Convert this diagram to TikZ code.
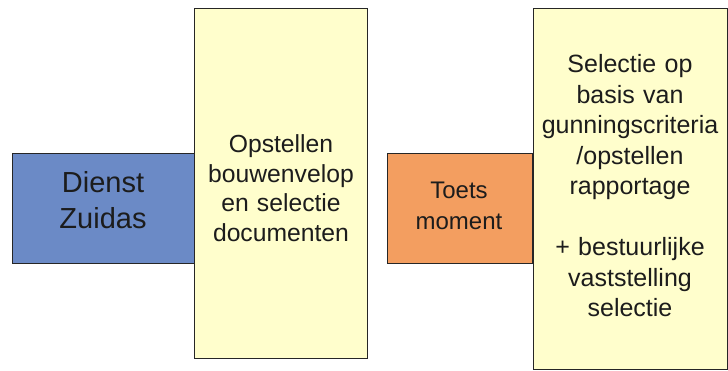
\documentclass[tikz,border=0pt]{standalone}
\usepackage{fontspec}
\setmainfont{Liberation Sans}
\definecolor{boxblue}{RGB}{107,138,198}
\definecolor{boxorange}{RGB}{243,158,96}
\definecolor{boxyellow}{RGB}{255,254,204}
\definecolor{txt}{RGB}{28,28,28}
\begin{document}
\begin{tikzpicture}[x=1pt,y=-1pt,
  box/.style={draw=black!85, line width=1.3pt, inner sep=0pt, anchor=north west},
  lbl/.style={text=txt, align=center, inner sep=0pt, anchor=base}]
\useasboundingbox (0,0) rectangle (728,371);
\fill[white] (0,0) rectangle (728,371);
% boxes
\node[box, fill=boxblue, minimum width=182pt, minimum height=110pt] (dienstbox) at (12,153) {};
\node[box, fill=boxyellow, minimum width=173pt, minimum height=350pt] (opstelbox) at (194,8) {};
\node[box, fill=boxorange, minimum width=145pt, minimum height=110pt] (toetsbox) at (387,153) {};
\node[box, fill=boxyellow, minimum width=194pt, minimum height=361pt] (selectbox) at (533,8) {};
% texts
\node[lbl, font=\fontsize{29}{36}\selectfont, text width=178pt] (dienst) at (103,193) {Dienst\\Zuidas};
\node[lbl, font=\fontsize{24.7}{29.5}\selectfont, text width=172pt] (opstel) at (281,153) {Opstellen\\bouwenvelop\\en selectie\\documenten};
\node[lbl, font=\fontsize{24}{30.5}\selectfont, text width=140pt] (toets) at (459,199) {Toets\\moment};
\node[lbl, font=\fontsize{25}{30.5}\selectfont, text width=194pt] (select) at (630,73) {Selectie op\\basis van\\gunningscriteria\\/opstellen\\rapportage\\[30.5pt]+ bestuurlijke\\vaststelling\\selectie};
\end{tikzpicture}
\end{document}
